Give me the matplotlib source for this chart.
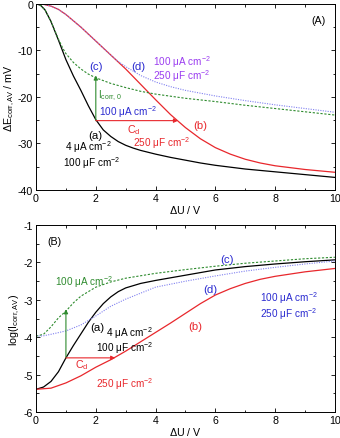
import matplotlib
matplotlib.use("Agg")
import matplotlib.pyplot as plt
from matplotlib.ticker import AutoMinorLocator

plt.rcParams["font.family"] = ["Liberation Sans", "DejaVu Sans"]
plt.rcParams["mathtext.fontset"] = "custom"
plt.rcParams["mathtext.rm"] = "Liberation Sans"
plt.rcParams["mathtext.it"] = "Liberation Sans:italic"
plt.rcParams["axes.unicode_minus"] = False

RED = "#e8272c"
GREEN = "#2e8b2e"
BLUE = "#2a2ad0"
PURPLE = "#9a3cf0"
LBLUE = "#8080f0"

# ── panel A: ΔE_corr,AV (mV) vs ΔU (V) ──
a_x = [0, 0.15, 0.3, 0.5, 0.75, 1, 1.25, 1.5, 1.75, 2, 2.25, 2.5, 2.75, 3, 3.25, 3.5, 4,
       4.5, 5, 5.5, 6, 7, 8, 9, 10]
a_y = [0, -0.3, -1.3, -3.8, -7.8, -12, -15.5, -18.6, -21.9, -24.9, -27.1, -28.5, -29.6,
       -30.4, -31, -31.5, -32.3, -33, -33.6, -34.2, -34.7, -35.5, -36.1, -36.7, -37.3]
b_x = [0, 0.25, 0.5, 0.75, 1, 1.5, 2, 2.5, 3, 3.5, 4, 4.5, 5, 5.5, 6, 6.5, 7, 7.5, 8, 9, 10]
b_y = [0, -0.1, -0.5, -1.2, -2.3, -5, -8, -11, -14, -17.3, -20.6, -23.8, -26.6, -29,
       -30.9, -32.3, -33.4, -34.2, -34.8, -35.6, -36.2]
c_x = [0, 0.15, 0.3, 0.5, 0.75, 0.9, 1, 1.25, 1.5, 1.75, 2, 2.5, 3, 3.5, 4, 5, 6, 7, 8, 9, 10]
c_y = [0, -0.3, -1.3, -3.8, -7.6, -9.6, -10.7, -12.6, -14, -15.1, -15.9, -17.1, -18,
       -18.8, -19.4, -20.3, -21, -21.8, -22.5, -23.2, -23.9]
d_x = [0, 0.25, 0.5, 0.75, 1, 1.5, 2, 2.5, 2.75, 3, 3.5, 4, 4.5, 5, 6, 7, 8, 9, 10]
d_y = [0, -0.1, -0.5, -1.2, -2.3, -5, -8, -11, -12.4, -13.5, -15.4, -16.8, -17.8, -18.6,
       -19.8, -20.8, -21.7, -22.5, -23.3]

# ── panel B: log(I_corr,AV) vs ΔU (V) ──
ba_x = [0, 0.25, 0.5, 0.75, 1, 1.25, 1.5, 1.75, 2, 2.25, 2.5, 2.75, 3, 3.5, 4, 5, 6, 7, 8,
        9, 10]
ba_y = [-5.39, -5.33, -5.18, -4.92, -4.55, -4.22, -3.91, -3.6, -3.33, -3.1, -2.92, -2.78,
        -2.68, -2.56, -2.48, -2.34, -2.2, -2.11, -2.04, -1.98, -1.93]
bb_x = [0, 0.5, 1, 1.5, 2, 2.5, 3, 3.5, 4, 4.5, 5, 5.5, 6, 6.5, 7, 7.5, 8, 9, 10]
bb_y = [-5.39, -5.36, -5.22, -5.03, -4.8, -4.6, -4.37, -4.12, -3.87, -3.62, -3.36, -3.1,
        -2.87, -2.7, -2.56, -2.45, -2.37, -2.25, -2.16]
bc_x = [0, 0.25, 0.5, 0.75, 1, 1.25, 1.5, 2, 2.5, 3, 4, 5, 6, 7, 8, 9, 10]
bc_y = [-3.97, -3.92, -3.72, -3.48, -3.3, -3.08, -2.9, -2.66, -2.52, -2.42, -2.29, -2.19,
        -2.1, -2.02, -1.96, -1.9, -1.86]
bd_x = [0, 0.25, 0.5, 1, 1.5, 2, 2.5, 3, 3.5, 4, 4.5, 5, 5.5, 6, 7, 8, 9, 10]
bd_y = [-3.97, -3.96, -3.92, -3.83, -3.67, -3.43, -3.17, -2.98, -2.82, -2.66, -2.58,
        -2.5, -2.43, -2.36, -2.23, -2.13, -2.04, -1.96]

fig = plt.figure(figsize=(3.4, 4.39), dpi=100)
axA = fig.add_axes([0.106, 0.565, 0.879, 0.424])
axB = fig.add_axes([0.106, 0.059, 0.879, 0.426])

FS = 7.2


def style(ax):
    ax.set_xlim(0, 10)
    ax.set_xticks([0, 2, 4, 6, 8, 10])
    ax.xaxis.set_minor_locator(AutoMinorLocator(2))
    ax.yaxis.set_minor_locator(AutoMinorLocator(2))
    ax.tick_params(which="both", direction="in", top=True, right=True, labelsize=FS + 0.5,
                   width=0.6, pad=2)
    ax.tick_params(which="major", length=3)
    ax.tick_params(which="minor", length=1.8)
    for s in ax.spines.values():
        s.set_linewidth(0.7)
    ax.set_xlabel(r"$\Delta$U / V", fontsize=FS + 0.5, labelpad=0)


def arrow(ax, x0, y0, x1, y1, color):
    ax.annotate("", xy=(x1, y1), xytext=(x0, y0),
                arrowprops=dict(arrowstyle="-|>", color=color, lw=0.8, mutation_scale=6,
                                shrinkA=0, shrinkB=0))


# panel A
axA.plot(a_x, a_y, color="black", lw=0.9)
axA.plot(b_x, b_y, color=RED, lw=0.9)
axA.plot(c_x, c_y, color=GREEN, lw=0.8, ls=(0, (2, 1.5)))
axA.plot(d_x, d_y, color=LBLUE, lw=0.8, ls=(0, (1, 1.2)))
axA.set_ylim(-40, 0)
axA.set_yticks([-40, -30, -20, -10, 0])
style(axA)
axA.set_ylabel(r"$\Delta$E$_{\rm corr,AV}$ / mV", fontsize=FS + 0.5, labelpad=1)

arrow(axA, 2, -25.1, 2, -15.4, GREEN)
arrow(axA, 2, -25.1, 4.75, -25.1, RED)
axA.text(9.2, -3.5, "(A)", fontsize=FS + 0.5, va="center")
axA.text(2.0, -13.3, "(c)", color=BLUE, fontsize=FS + 1, ha="center", va="center")
axA.text(3.42, -13.3, "(d)", color=BLUE, fontsize=FS + 1, ha="center", va="center")
axA.text(3.9, -12.2, r"100 μA cm$^{-2}$", color=PURPLE, fontsize=FS, va="center")
axA.text(3.9, -15.4, r"250 μF cm$^{-2}$", color=PURPLE, fontsize=FS, va="center")
axA.text(2.07, -19.5, r"I$_{\rm corr,0}$", color=GREEN, fontsize=FS, va="center")
axA.text(2.12, -23.1, r"100 μA cm$^{-2}$", color=BLUE, fontsize=FS, va="center")
axA.text(1.75, -28.1, "(a)", fontsize=FS + 1, va="center")
axA.text(0.97, -30.6, r"4 μA cm$^{-2}$", fontsize=FS, va="center")
axA.text(0.9, -34.0, r"100 μF cm$^{-2}$", fontsize=FS, va="center")
axA.text(3.03, -26.9, r"C$_{\rm d}$", color=RED, fontsize=FS + 0.5, va="center")
axA.text(3.25, -29.8, r"250 μF cm$^{-2}$", color=RED, fontsize=FS, va="center")
axA.text(5.25, -26.0, "(b)", color=RED, fontsize=FS + 1, va="center")

# panel B
axB.plot(ba_x, ba_y, color="black", lw=0.9)
axB.plot(bb_x, bb_y, color=RED, lw=0.9)
axB.plot(bc_x, bc_y, color=GREEN, lw=0.8, ls=(0, (2, 1.5)))
axB.plot(bd_x, bd_y, color=LBLUE, lw=0.8, ls=(0, (1, 1.2)))
axB.set_ylim(-6, -1)
axB.set_yticks([-6, -5, -4, -3, -2, -1])
style(axB)
axB.set_ylabel(r"log(I$_{\rm corr,AV}$)", fontsize=FS + 0.5, labelpad=1)

arrow(axB, 1, -4.55, 1, -3.25, GREEN)
arrow(axB, 1, -4.55, 2.65, -4.55, RED)
axB.text(0.38, -1.43, "(B)", fontsize=FS + 0.5, va="center")
axB.text(0.65, -2.5, r"100 μA cm$^{-2}$", color=GREEN, fontsize=FS, va="center")
axB.text(1.83, -3.73, "(a)", fontsize=FS + 1, va="center")
axB.text(2.35, -3.85, r"4 μA cm$^{-2}$", fontsize=FS, va="center")
axB.text(2.0, -4.27, r"100 μF cm$^{-2}$", fontsize=FS, va="center")
axB.text(1.3, -4.72, r"C$_{\rm d}$", color=RED, fontsize=FS + 0.5, va="center")
axB.text(2.0, -5.22, r"250 μF cm$^{-2}$", color=RED, fontsize=FS, va="center")
axB.text(5.33, -3.7, "(b)", color=RED, fontsize=FS + 1, ha="center", va="center")
axB.text(5.83, -2.71, "(d)", color=BLUE, fontsize=FS + 1, ha="center", va="center")
axB.text(6.4, -1.9, "(c)", color=BLUE, fontsize=FS + 1, ha="center", va="center")
axB.text(7.5, -2.92, r"100 μA cm$^{-2}$", color=BLUE, fontsize=FS, va="center")
axB.text(7.5, -3.35, r"250 μF cm$^{-2}$", color=BLUE, fontsize=FS, va="center")

fig.savefig("out.png", dpi=100)
